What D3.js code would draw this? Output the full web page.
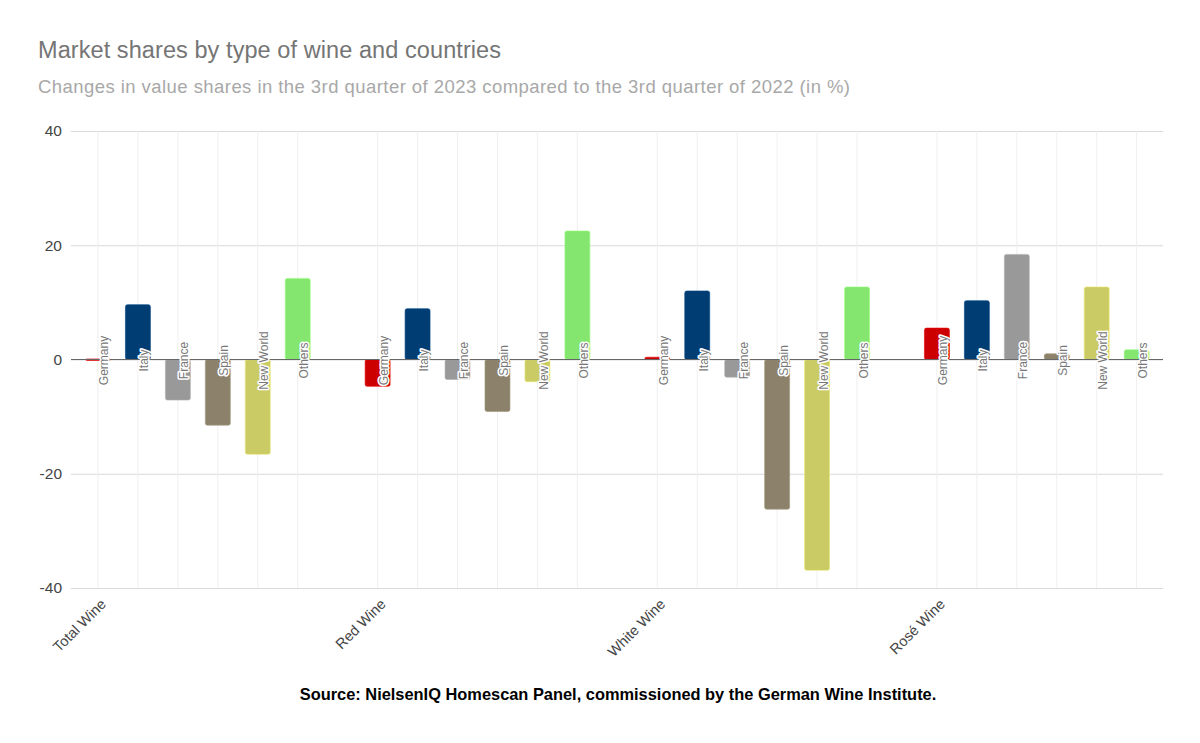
<!DOCTYPE html>
<html>
<head>
<meta charset="utf-8">
<script src="https://cdn.jsdelivr.net/npm/d3@7/dist/d3.min.js"></script>
<style>
  html, body { margin: 0; padding: 0; background: #fff; }
  svg { display: block; font-family: "Liberation Sans", Arial, sans-serif; }
</style>
</head>
<body>
<svg id="chart" width="1200" height="743"></svg>
<script>
const categories = ["Total Wine", "Red Wine", "White Wine", "Rosé Wine"];
const series = ["Germany", "Italy", "France", "Spain", "New World", "Others"];
const seriesColors = ["#cc0000", "#003d73", "#999999", "#8c826b", "#cbcb65", "#84e66e"];
const germany  = [0.1, -4.7, 0.4, 5.5];
const italy    = [9.6, 8.9, 12.0, 10.3];
const france   = [-7.1, -3.5, -3.1, 18.4];
const spain    = [-11.5, -9.1, -26.2, 1.0];
const newWorld = [-16.6, -3.9, -36.9, 12.7];
const others   = [14.2, 22.5, 12.7, 1.7];
const yTicks = [-40, -20, 0, 20, 40];

const title = "Market shares by type of wine and countries";
const subtitle = "Changes in value shares in the 3rd quarter of 2023 compared to the 3rd quarter of 2022 (in %)";
const source = "Source: NielsenIQ Homescan Panel, commissioned by the German Wine Institute.";

const valuesBySeries = [germany, italy, france, spain, newWorld, others];

// Build slots: each category has 6 bars plus one empty gap slot
const slotsPerGroup = series.length + 1;
const data = [];
categories.forEach((c, gi) => {
  series.forEach((s, si) => {
    data.push({ cat: c, series: s, si, gi, slot: gi * slotsPerGroup + si, value: valuesBySeries[si][gi] });
  });
});
const slotDomain = d3.range(categories.length * slotsPerGroup - 1);

const svg = d3.select("#chart");
const plotLeft = 71, plotRight = 1163, plotTop = 131, plotBottom = 588;

const x = d3.scaleBand()
  .domain(slotDomain)
  .range([78, 78 + slotDomain.length * 39.95])
  .paddingInner(0.375)
  .paddingOuter(0.1875);

const y = d3.scaleLinear().domain([-40, 40]).range([plotBottom, plotTop]);

// Title
svg.append("text").attr("x", 38).attr("y", 58)
  .attr("font-size", 23.5).attr("fill", "#757575")
  .attr("textLength", 463).attr("lengthAdjust", "spacing").text(title);
svg.append("text").attr("x", 38).attr("y", 93)
  .attr("font-size", 18.5).attr("fill", "#a8a8a8")
  .attr("textLength", 812).attr("lengthAdjust", "spacing").text(subtitle);

// Horizontal gridlines
const yAxis = d3.axisLeft(y).tickValues(yTicks).tickFormat(d => String(d))
  .tickSize(-(plotRight - plotLeft)).tickPadding(9);
const gy = svg.append("g").attr("transform", `translate(${plotLeft},0)`).call(yAxis);
gy.select(".domain").remove();
gy.selectAll(".tick line").attr("stroke", "#d9d9d9").attr("stroke-width", 1);
gy.selectAll(".tick text").attr("font-size", 15.5).attr("fill", "#444")
  .attr("font-family", "Liberation Sans, Arial, sans-serif");

// Vertical gridlines at bar slots
svg.append("g").selectAll("line").data(data).join("line")
  .attr("x1", d => x(d.slot) + x.bandwidth() / 2)
  .attr("x2", d => x(d.slot) + x.bandwidth() / 2)
  .attr("y1", plotTop).attr("y2", plotBottom)
  .attr("stroke", "#efefef").attr("stroke-width", 1);

// Bars
svg.append("g").selectAll("rect").data(data).join("rect")
  .attr("x", d => x(d.slot))
  .attr("width", x.bandwidth())
  .attr("y", d => y(Math.max(0, d.value)))
  .attr("height", d => Math.max(1.5, Math.abs(y(d.value) - y(0))))
  .attr("rx", 2).attr("ry", 2)
  .attr("fill", d => seriesColors[d.si])
  .attr("stroke", d => d3.color(seriesColors[d.si]).brighter(0.4))
  .attr("stroke-width", 0.6);

// Zero line
svg.append("line")
  .attr("x1", plotLeft).attr("x2", plotRight)
  .attr("y1", y(0)).attr("y2", y(0))
  .attr("stroke", "#666").attr("stroke-width", 1.2);

// Series labels at the zero line (rotated)
svg.append("g").selectAll("text").data(data).join("text")
  .attr("transform", d => `translate(${x(d.slot) + x.bandwidth() / 2 + 10.5},${y(0) + 1}) rotate(-90)`)
  .attr("text-anchor", "middle")
  .attr("font-size", 12)
  .attr("fill", "#777")
  .attr("stroke", "#fff").attr("stroke-width", 3).attr("paint-order", "stroke")
  .attr("stroke-linejoin", "round")
  .text(d => d.series);

// Category labels
svg.append("g").selectAll("text").data(categories).join("text")
  .attr("transform", (c, gi) => `translate(${x(gi * slotsPerGroup) + x.bandwidth() / 2 + 9},${605}) rotate(-45)`)
  .attr("text-anchor", "end")
  .attr("font-size", 14.5)
  .attr("fill", "#444")
  .text(c => c);

// Source
svg.append("text").attr("x", 618).attr("y", 700)
  .attr("text-anchor", "middle").attr("font-size", 16.4).attr("font-weight", "bold")
  .attr("fill", "#000").text(source);
</script>
</body>
</html>
